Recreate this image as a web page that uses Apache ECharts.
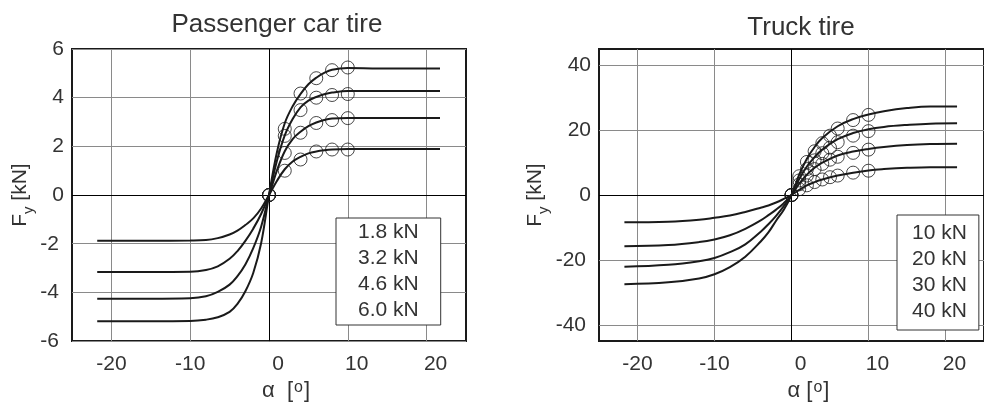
<!DOCTYPE html>
<html>
<head>
<meta charset="utf-8">
<script src="https://cdn.jsdelivr.net/npm/echarts@6/dist/echarts.min.js"></script>
<style>
html,body{margin:0;padding:0;background:#fff;}
#c{width:984px;height:407px;}
</style>
</head>
<body>
<div id="c"></div>
<script>
// ---------- data ----------
const carTitle = 'Passenger car tire';
const truckTitle = 'Truck tire';
const carLoads = ['1.8 kN', '3.2 kN', '4.6 kN', '6.0 kN'];
const truckLoads = ['10 kN', '20 kN', '30 kN', '40 kN'];

const xTicks = [-20, -10, 0, 10, 20];
const carYTicks = [-6, -4, -2, 0, 2, 4, 6];
const truckYTicks = [-40, -20, 0, 20, 40];

// model curves (slip angle in deg, lateral force in kN)
const carAlpha = [-21.8, -15, -10, -8, -6.5, -5, -4, -3, -2, -1, 0, 1, 2, 3, 4, 5, 6, 7, 8, 10, 14, 21.7];
const car18 = [-1.88, -1.88, -1.87, -1.85, -1.77, -1.62, -1.46, -1.23, -0.96, -0.55, 0, 0.58, 1.06, 1.38, 1.57, 1.71, 1.79, 1.84, 1.87, 1.89, 1.89, 1.89];
const car32 = [-3.16, -3.16, -3.15, -3.08, -2.93, -2.62, -2.30, -1.88, -1.38, -0.78, 0, 1.00, 1.80, 2.30, 2.60, 2.83, 2.98, 3.08, 3.14, 3.17, 3.17, 3.17];
const car46 = [-4.26, -4.26, -4.24, -4.16, -3.98, -3.68, -3.33, -2.85, -2.18, -1.30, 0, 1.40, 2.45, 3.12, 3.60, 3.88, 4.03, 4.14, 4.21, 4.27, 4.27, 4.27];
const car60 = [-5.18, -5.18, -5.17, -5.12, -5.02, -4.80, -4.47, -3.95, -3.20, -1.98, 0, 1.75, 2.95, 3.65, 4.15, 4.55, 4.82, 5.02, 5.15, 5.22, 5.20, 5.20];

// measured points
const carMarkAlpha = [0, 2, 4, 6, 8, 10];
const carMk18 = [0, 1.00, 1.46, 1.79, 1.87, 1.87];
const carMk32 = [0, 1.73, 2.56, 2.96, 3.08, 3.16];
const carMk46 = [0, 2.43, 3.49, 4.00, 4.11, 4.15];
const carMk60 = [0, 2.72, 4.17, 4.80, 5.13, 5.24];

const truckAlpha = [-21.7, -16, -12, -10, -8, -6, -4, -3, -2, -1, 0, 1, 2, 3, 4, 6, 8, 10, 12, 15, 18, 21.5];
const tr10 = [-8.4, -8.2, -7.6, -7.0, -6.3, -5.2, -3.9, -3.2, -2.3, -1.2, 0, 1.6, 3.0, 4.0, 4.8, 6.0, 6.9, 7.6, 8.0, 8.4, 8.6, 8.6];
const tr20 = [-15.8, -15.4, -14.5, -13.7, -12.4, -10.4, -7.8, -6.2, -4.5, -2.5, 0, 3.5, 6.3, 8.4, 10.0, 12.2, 13.4, 14.2, 14.8, 15.4, 15.7, 15.8];
const tr30 = [-22.1, -21.5, -20.4, -19.4, -17.6, -15.2, -11.3, -9.0, -6.4, -3.4, 0, 4.9, 8.8, 11.7, 14.0, 17.2, 19.1, 20.3, 21.0, 21.6, 22.0, 22.1];
const tr40 = [-27.5, -26.9, -25.7, -24.4, -22.2, -19.0, -14.3, -11.5, -7.9, -4.5, 0, 6.3, 11.2, 14.8, 17.6, 21.2, 23.4, 24.8, 25.8, 26.8, 27.3, 27.3];

const truckMarkAlpha = [0, 1, 2, 3, 4, 5, 6, 8, 10];
const trMk10 = [0, 1.8, 3.0, 4.0, 4.8, 5.5, 6.0, 6.9, 7.5];
const trMk20 = [0, 3.3, 6.0, 8.0, 9.6, 10.9, 11.8, 13.0, 14.0];
const trMk30 = [0, 4.5, 8.0, 10.7, 12.9, 14.6, 16.3, 18.3, 19.7];
const trMk40 = [0, 5.8, 10.2, 13.5, 16.0, 18.3, 20.5, 23.1, 24.7];

// ---------- chart ----------
const FONT = '"Liberation Sans", Arial, Helvetica, sans-serif';
const TXT = '#333';
const zip = (xs, ys) => xs.map((x, i) => [x, ys[i]]);

function xLabelFmt(v) { return v < 0 ? '{n|' + v + '}' : '{p|' + v + '}'; }
function yLabelFmt(v) { return v < 0 ? '{n|' + v + '}' : '{p|' + v + '}'; }

function makeX(idx, nameStr) {
  return {
    type: 'value', gridIndex: idx, min: -25, max: 25,
    axisLine: {show: false},
    axisTick: {show: false, customValues: xTicks},
    splitLine: {show: true, lineStyle: {color: '#8a8a8a', width: 1}},
    axisLabel: {
      customValues: xTicks, margin: 13, formatter: xLabelFmt,
      color: TXT, fontSize: 21, fontFamily: FONT,
      rich: {
        n: {fontSize: 21, fontFamily: FONT, color: TXT},
        p: {fontSize: 21, fontFamily: FONT, color: TXT, padding: [0, 0, 0, 18]}
      }
    },
    name: nameStr, nameLocation: 'middle', nameGap: 36,
    nameTextStyle: {
      color: TXT, fontFamily: FONT, fontSize: 21, padding: [0, 0, 0, 34],
      rich: {
        a: {fontSize: 22, fontFamily: FONT, color: TXT, lineHeight: 24, verticalAlign: 'top'},
        o: {fontSize: 16, fontFamily: FONT, color: TXT, lineHeight: 15, verticalAlign: 'top', padding: [0, 1, 0, 1]}
      }
    }
  };
}

function makeY(idx, min, max, ticks, gap) {
  return {
    type: 'value', gridIndex: idx, min: min, max: max,
    axisLine: {show: false},
    axisTick: {show: false, customValues: ticks},
    splitLine: {show: true, lineStyle: {color: '#8a8a8a', width: 1}},
    axisLabel: {
      customValues: ticks, margin: 8, formatter: yLabelFmt,
      color: TXT, fontSize: 21, fontFamily: FONT,
      rich: {
        n: {fontSize: 21, fontFamily: FONT, color: TXT, padding: [0, 5, 0, 0]},
        p: {fontSize: 21, fontFamily: FONT, color: TXT}
      }
    },
    name: '{f|F}{s|y}{f| [kN]}', nameLocation: 'middle', nameRotate: 90, nameGap: gap,
    nameTextStyle: {
      color: TXT, fontFamily: FONT, fontSize: 21,
      rich: {
        f: {fontSize: 21, fontFamily: FONT, color: TXT, lineHeight: 24, verticalAlign: 'top'},
        s: {fontSize: 15, fontFamily: FONT, color: TXT, lineHeight: 15, verticalAlign: 'top', padding: [12, 0, 0, 0]}
      }
    }
  };
}

const lineStyle = {color: '#1a1a1a', width: 2};
function curve(name, gi, xs, ys, zero) {
  const s = {
    name: name, type: 'line', xAxisIndex: gi, yAxisIndex: gi,
    data: zip(xs, ys), smooth: 0.4,
    showSymbol: false, symbol: 'none', lineStyle: lineStyle,
    itemStyle: {color: '#1a1a1a'}, z: 3, silent: true
  };
  if (zero) {
    s.markLine = {
      silent: true, symbol: ['none', 'none'], label: {show: false},
      lineStyle: {color: '#000', width: 1, type: 'solid'},
      data: [{xAxis: 0}, {yAxis: 0}], z: 2
    };
  }
  return s;
}
function marks(name, gi, xs, ys) {
  return {
    name: name, type: 'scatter', xAxisIndex: gi, yAxisIndex: gi,
    data: zip(xs, ys), symbol: 'circle', symbolSize: 13,
    itemStyle: {color: 'rgba(0,0,0,0)', borderColor: '#1a1a1a', borderWidth: 1},
    z: 4, silent: true
  };
}

const carCurves = [car18, car32, car46, car60];
const carMarks = [carMk18, carMk32, carMk46, carMk60];
const trCurves = [tr10, tr20, tr30, tr40];
const trMarks = [trMk10, trMk20, trMk30, trMk40];

const series = [];
carLoads.forEach((n, i) => {
  series.push(curve(n, 0, carAlpha, carCurves[i], i === 0));
  series.push(marks(n, 0, carMarkAlpha, carMarks[i]));
});
truckLoads.forEach((n, i) => {
  series.push(curve(n, 1, truckAlpha, trCurves[i], i === 0));
  series.push(marks(n, 1, truckMarkAlpha, trMarks[i]));
});

function legend(data, left, top, pad, gap) {
  return {
    data: data, orient: 'vertical', left: left, top: top,
    icon: 'none', itemWidth: 0, itemHeight: 21, itemGap: gap,
    padding: pad, backgroundColor: '#fff', borderColor: '#333', borderWidth: 1,
    selectedMode: false,
    textStyle: {color: TXT, fontSize: 21, fontFamily: FONT}
  };
}

const option = {
  animation: false,
  backgroundColor: '#fff',
  title: [
    {text: carTitle, left: 272, top: 7, textAlign: 'center',
     textStyle: {color: TXT, fontSize: 26, fontWeight: 'normal', fontFamily: FONT}},
    {text: truckTitle, left: 796, top: 10, textAlign: 'center',
     textStyle: {color: TXT, fontSize: 26, fontWeight: 'normal', fontFamily: FONT}}
  ],
  grid: [
    {left: 72, top: 49, width: 394, height: 294, show: true, borderColor: '#1a1a1a', borderWidth: 2, backgroundColor: 'transparent'},
    {left: 599, top: 49, width: 394, height: 294, show: true, borderColor: '#1a1a1a', borderWidth: 2, backgroundColor: 'transparent'}
  ],
  xAxis: [makeX(0, '{a|α  [}{o|o}{a|]}'), makeX(1, '{a|α [}{o|o}{a|]}')],
  yAxis: [makeY(0, -6, 6, carYTicks, 26), makeY(1, -45, 45, truckYTicks, 44)],
  legend: [
    legend(carLoads, 336, 218, [4, 22, 4, 17], 5),
    legend(truckLoads, 897, 215, [8, 12, 8, 10], 5)
  ],
  series: series
};

const chart = echarts.init(document.getElementById('c'), null, {renderer: 'canvas'});
chart.setOption(option);
</script>
</body>
</html>
